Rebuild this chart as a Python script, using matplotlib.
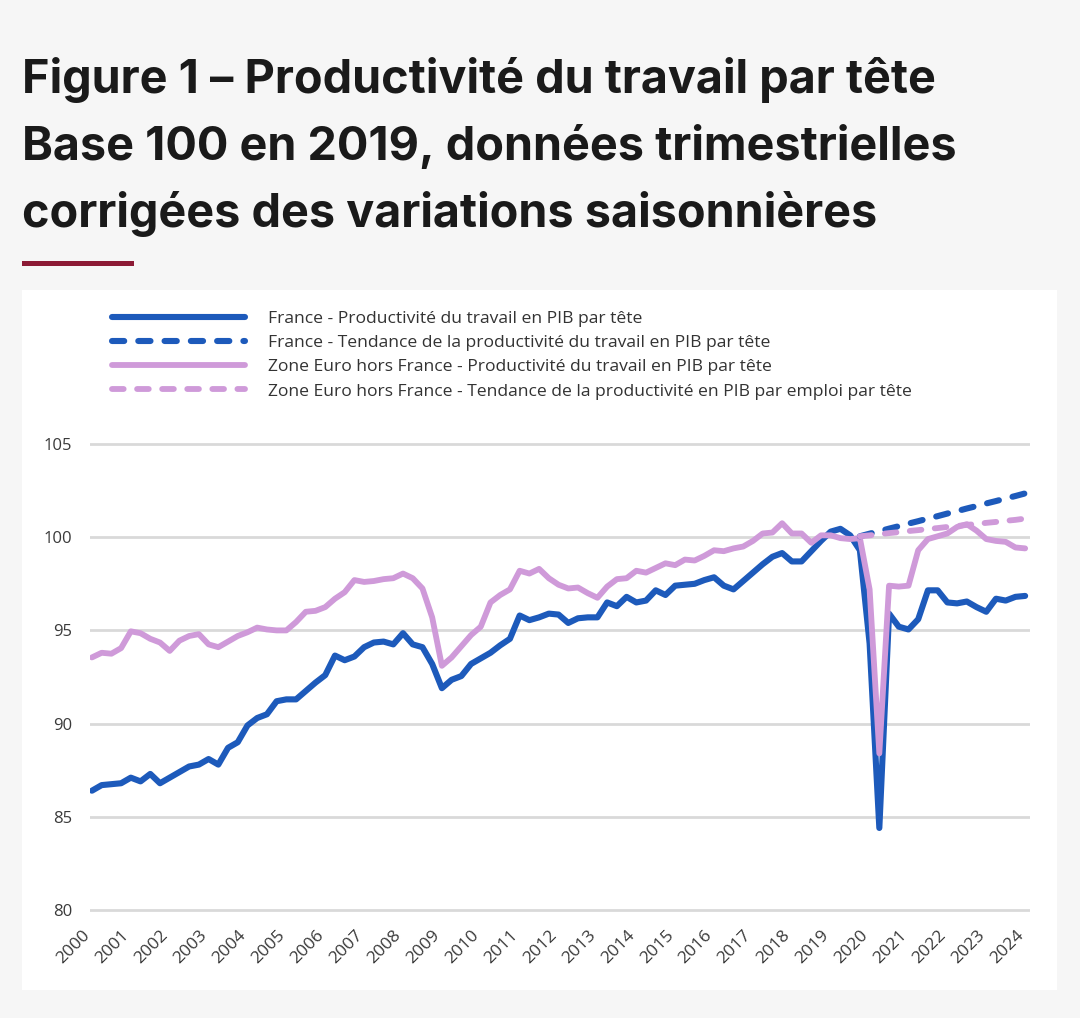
import numpy as np
import matplotlib
matplotlib.use("Agg")
import matplotlib.pyplot as plt
import matplotlib.transforms as mtransforms
from matplotlib.patches import Rectangle

# ---------------- data (quarterly, 2000Q1 .. 2024Q1) ----------------
years = [str(y) for y in range(2000, 2025)]

france = [86.4, 86.7, 86.75, 86.8, 87.1, 86.9, 87.3, 86.8, 87.1, 87.4, 87.7, 87.8, 88.1, 87.8, 88.7, 89.0, 89.9,
          90.3, 90.5, 91.2, 91.3, 91.3, 91.75, 92.2, 92.6, 93.65, 93.4, 93.6, 94.1, 94.35, 94.4, 94.25, 94.85,
          94.25, 94.1, 93.2, 91.9, 92.35, 92.55, 93.2, 93.5, 93.8, 94.2, 94.55, 95.8, 95.55, 95.7, 95.9, 95.85, 95.4,
          95.65, 95.7, 95.7, 96.5, 96.3, 96.8, 96.5, 96.6, 97.15, 96.9, 97.4, 97.45, 97.5, 97.7, 97.85,
          97.4, 97.2, 97.65, 98.1, 98.55, 98.95, 99.15, 98.7, 98.7, 99.25, 99.8, 100.3, 100.45, 100.1, 99.3, 94.3, 84.4,
          95.9, 95.2, 95.05, 95.6, 97.15, 97.15, 96.5, 96.45, 96.55, 96.25, 96.0, 96.7, 96.6, 96.8, 96.85]

zone_euro = [93.55, 93.8, 93.75, 94.05, 94.95, 94.85, 94.55, 94.35, 93.9, 94.45, 94.7, 94.8, 94.25, 94.1, 94.4, 94.7, 94.9,
             95.15, 95.05, 95.0, 95.0, 95.45, 96.0, 96.05, 96.25, 96.7, 97.05, 97.7, 97.6, 97.65, 97.75, 97.8, 98.05,
             97.8, 97.25, 95.7, 93.1, 93.55, 94.15, 94.75, 95.2, 96.5, 96.9, 97.2, 98.2, 98.05, 98.3, 97.8, 97.45, 97.25,
             97.3, 97.0, 96.75, 97.35, 97.75, 97.8, 98.2, 98.1, 98.35, 98.6, 98.5, 98.8, 98.75, 99.0, 99.3,
             99.25, 99.4, 99.5, 99.8, 100.2, 100.25, 100.75, 100.2, 100.2, 99.7, 100.1, 100.1, 99.95, 99.9, 99.95, 97.2, 88.4,
             97.4, 97.35, 97.4, 99.3, 99.9, 100.05, 100.2, 100.55, 100.7, 100.35, 99.9, 99.8, 99.75, 99.45, 99.4]

# trends start at 2019Q4 (quarter index 79)
trend_start = 79
france_trend = [100.05, 100.19, 100.32, 100.46, 100.59, 100.73, 100.86, 101.0, 101.13, 101.27,
                101.4, 101.54, 101.67, 101.81, 101.94, 102.08, 102.21, 102.35]
euro_trend = [100.05, 100.1, 100.16, 100.22, 100.27, 100.33, 100.38, 100.44, 100.49, 100.55,
              100.6, 100.66, 100.71, 100.77, 100.82, 100.88, 100.93, 101.0]

labels = ["France - Productivité du travail en PIB par tête",
          "France - Tendance de la productivité du travail en PIB par tête",
          "Zone Euro hors France - Productivité du travail en PIB par tête",
          "Zone Euro hors France - Tendance de la productivité en PIB par emploi par tête"]

title_lines = ["Figure 1 – Productivité du travail par tête",
               "Base 100 en 2019, données trimestrielles",
               "corrigées des variations saisonnières"]

# ---------------- style ----------------
BLUE = "#1d5abb"
PINK = "#cf9ad9"
W, H = 1080, 1018
fig = plt.figure(figsize=(W / 100, H / 100), dpi=100, facecolor="#f6f6f6")

def fx(px):
    return px / W

def fy(py):
    return 1 - py / H

# title
for i, line in enumerate(title_lines):
    fig.text(fx(22), fy(93 + i * 67), line, fontsize=33.7, fontweight="bold",
             family=["Inter", "DejaVu Sans"], color="#1a1a1a", va="baseline", ha="left")

# red underline
fig.patches.append(Rectangle((fx(22), fy(266)), fx(134) - fx(22), 5 / H,
                             transform=fig.transFigure, facecolor="#8c1a35", edgecolor="none", zorder=-10))
# white panel
fig.patches.append(Rectangle((fx(22), fy(990)), fx(1057) - fx(22), 700 / H,
                             transform=fig.transFigure, facecolor="white", edgecolor="none", zorder=-10))

# axes
ymin, ymax = 79.8, 105.2
ax_top = 444 - 0.2 * 18.6
ax_bot = 910 + 0.2 * 18.6
ax = fig.add_axes([fx(90), fy(ax_bot), fx(1030) - fx(90), (ax_bot - ax_top) / H])
ax.set_facecolor("none")
ax.set_zorder(5)

x = np.arange(len(france))
xt = np.arange(trend_start, trend_start + len(france_trend))

l1, = ax.plot(x, france, color=BLUE, lw=4.4, solid_joinstyle="round", solid_capstyle="round", zorder=3)
l3, = ax.plot(x, zone_euro, color=PINK, lw=4.2, solid_joinstyle="round", solid_capstyle="round", zorder=4)
l2, = ax.plot(xt, france_trend, color=BLUE, lw=4.4, dashes=(2.0, 2.3), dash_capstyle="round", zorder=5)
l4, = ax.plot(xt, euro_trend, color=PINK, lw=4.2, dashes=(2.0, 2.3), dash_capstyle="round", zorder=5)

ax.set_xlim(-0.2, 96.5)
ax.set_ylim(ymin, ymax)
ax.set_yticks([80, 85, 90, 95, 100, 105])
ax.set_yticklabels(["80", "85", "90", "95", "100", "105"])
ax.set_xticks(np.arange(0, len(france), 4))
ax.set_xticklabels(years, rotation=45, ha="right", va="center", rotation_mode="anchor")
ax.grid(axis="y", color="#d9d9d9", lw=2)
ax.set_axisbelow(True)
for s in ax.spines.values():
    s.set_visible(False)
ax.tick_params(axis="both", length=0, labelsize=12, labelcolor="#3a3a3a")
ax.tick_params(axis="x", labelsize=12.5)
ax.tick_params(axis="y", pad=13)
ax.tick_params(axis="x", pad=14)
shift = mtransforms.ScaledTranslation(-4 / 100, 0, fig.dpi_scale_trans)
for t in ax.get_xticklabels():
    t.set_transform(t.get_transform() + shift)
for t in ax.get_xticklabels() + ax.get_yticklabels():
    t.set_family(["Open Sans", "DejaVu Sans"])

leg = ax.legend([l1, l2, l3, l4], labels, loc="upper left",
                bbox_to_anchor=(fx(112), fy(311)), bbox_transform=fig.transFigure,
                frameon=False, borderpad=0, borderaxespad=0, handlelength=7.6,
                handletextpad=1.3, labelspacing=0.45,
                prop={"family": ["Open Sans", "DejaVu Sans"], "size": 12.6})
for t in leg.get_texts():
    t.set_color("#333333")

fig.savefig("out.png", dpi=100, facecolor=fig.get_facecolor())
